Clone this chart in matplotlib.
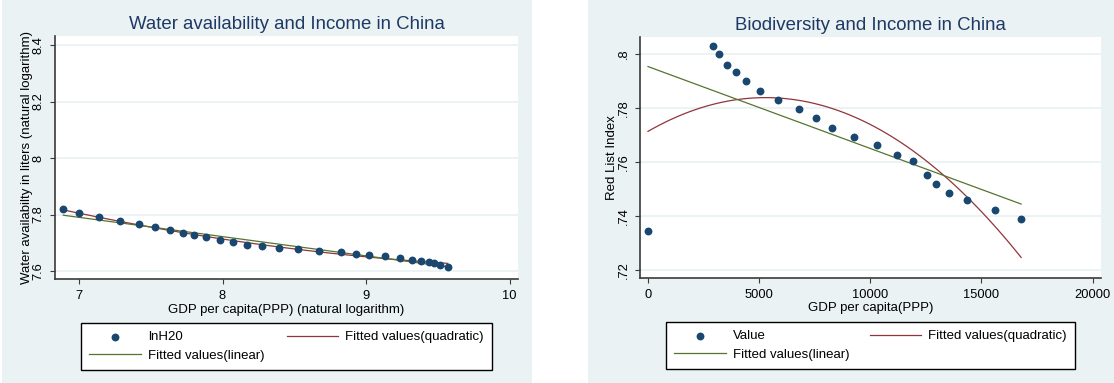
import numpy as np
import matplotlib
matplotlib.use('Agg')
import matplotlib.pyplot as plt
from matplotlib.patches import Rectangle

plt.rcParams['font.family'] = ['Liberation Sans', 'DejaVu Sans']

# left panel: log GDP per capita vs log water availability
ln_gdp = [6.891, 7.000, 7.141, 7.284, 7.416, 7.532, 7.632, 7.727, 7.803, 7.882,
          7.980, 8.074, 8.172, 8.278, 8.394, 8.526, 8.670, 8.823, 8.932, 9.023,
          9.132, 9.239, 9.322, 9.385, 9.436, 9.470, 9.512, 9.568]
ln_h2o = [7.819, 7.804, 7.790, 7.779, 7.767, 7.756, 7.746, 7.735, 7.726, 7.719,
          7.710, 7.702, 7.694, 7.688, 7.682, 7.677, 7.671, 7.666, 7.661, 7.656,
          7.652, 7.646, 7.641, 7.636, 7.632, 7.627, 7.622, 7.615]
water_xticks = [7, 8, 9, 10]
water_yticks = [7.6, 7.8, 8.0, 8.2, 8.4]
water_ytick_labels = ['7.6', '7.8', '8', '8.2', '8.4']

# right panel: GDP per capita vs Red List Index
gdp = [0, 2939, 3209, 3540, 3946, 4425, 5055, 5835, 6810, 7575, 8295,
       9255, 10290, 11190, 11925, 12540, 12960, 13560, 14340, 15600, 16785]
rli = [0.7346, 0.8031, 0.8000, 0.7960, 0.7935, 0.7899, 0.7863, 0.7831, 0.7796,
       0.7763, 0.7726, 0.7694, 0.7662, 0.7628, 0.7604, 0.7552, 0.7520, 0.7485,
       0.7458, 0.7423, 0.7390]
bio_xticks = [0, 5000, 10000, 15000, 20000]
bio_yticks = [0.72, 0.74, 0.76, 0.78, 0.80]
bio_ytick_labels = ['.72', '.74', '.76', '.78', '.8']

BG = '#eaf2f3'
NAVY = '#1a476f'
RED = '#90353b'
GREEN = '#55752f'
TITLE = '#1e3966'

W, H = 1114, 383
fig = plt.figure(figsize=(W / 100, H / 100), dpi=100)
fig.patch.set_facecolor('white')

# panel backgrounds (pixel coords)
for x0, x1 in [(2, 532), (588, 1114)]:
    fig.patches.append(Rectangle((x0 / W, 0), (x1 - x0) / W, 1,
                                 transform=fig.transFigure, facecolor=BG,
                                 edgecolor='none', zorder=-10))


def px_axes(left, top, right, bottom):
    return fig.add_axes([left / W, (H - bottom) / H, (right - left) / W, (bottom - top) / H])


def style_axes(ax, title, xlabel, ylabel):
    ax.set_facecolor('white')
    for s in ['top', 'right']:
        ax.spines[s].set_visible(False)
    for s in ['left', 'bottom']:
        ax.spines[s].set_color('#3a3a3a')
        ax.spines[s].set_linewidth(1.2)
    ax.tick_params(direction='out', length=3.5, width=0.8, color='#3a3a3a',
                   labelsize=9.3, pad=3)
    ax.tick_params(axis='x', pad=4.5)
    ax.tick_params(axis='y', labelrotation=90, pad=4)
    for lab in ax.get_yticklabels():
        lab.set_va('center')
    ax.grid(axis='y', color=BG, linewidth=1.3)
    ax.set_axisbelow(True)
    ax.set_title(title, fontsize=13.4, color=TITLE, pad=5)
    ax.set_xlabel(xlabel, fontsize=9.5, labelpad=1)
    ax.set_ylabel(ylabel, fontsize=9.5, labelpad=0)


def fit_lines(ax, x, y):
    x = np.asarray(x, float)
    y = np.asarray(y, float)
    grid = np.linspace(x.min(), x.max(), 100)
    q = np.polyval(np.polyfit(x, y, 2), grid)
    l = np.polyval(np.polyfit(x, y, 1), grid)
    hq, = ax.plot(grid, q, color=RED, lw=0.9, zorder=3)
    hl, = ax.plot(grid, l, color=GREEN, lw=0.9, zorder=3)
    return hq, hl


def add_legend(ax, handles, labels, box):
    # box = (left, top, right, bottom) in pixels
    l, t, r, b = box
    inv = ax.transAxes.inverted()
    (ax0, ay0) = inv.transform(fig.transFigure.transform((l / W, (H - b) / H)))
    (ax1, ay1) = inv.transform(fig.transFigure.transform((r / W, (H - t) / H)))
    leg = ax.legend(handles, labels, ncol=2, mode='expand', loc='upper left',
                    bbox_to_anchor=(ax0, ay0, ax1 - ax0, ay1 - ay0),
                    borderaxespad=0, fontsize=9.5, frameon=True, fancybox=False,
                    edgecolor='black', facecolor='white', framealpha=1,
                    handlelength=3.9, handletextpad=0.55, labelspacing=0.45,
                    borderpad=0.62, columnspacing=0.8)
    leg.get_frame().set_linewidth(1.0)
    return leg


# ---- left panel
ax1 = px_axes(55, 36, 518, 279)
sc1 = ax1.scatter(ln_gdp, ln_h2o, s=32, color=NAVY, zorder=4, linewidths=0)
hq1, hl1 = fit_lines(ax1, ln_gdp, ln_h2o)
ax1.set_xlim(6.833, 10.058)
ax1.set_ylim(7.572, 8.432)
ax1.set_xticks(water_xticks)
ax1.set_yticks(water_yticks)
ax1.set_yticklabels(water_ytick_labels)
style_axes(ax1, 'Water availability and Income in China',
           'GDP per capita(PPP) (natural logarithm)',
           'Water availabilty in liters (natural logarithm)')
add_legend(ax1, [sc1, hl1, hq1],
           ['lnH20', 'Fitted values(linear)', 'Fitted values(quadratic)'],
           (81, 323, 492, 366))

# ---- right panel
ax2 = px_axes(640, 37, 1101, 278)
sc2 = ax2.scatter(gdp, rli, s=32, color=NAVY, zorder=4, linewidths=0)
hq2, hl2 = fit_lines(ax2, gdp, rli)
ax2.set_xlim(-360, 20378)
ax2.set_ylim(0.7171, 0.8063)
ax2.set_xticks(bio_xticks)
ax2.set_yticks(bio_yticks)
ax2.set_yticklabels(bio_ytick_labels)
style_axes(ax2, 'Biodiversity and Income in China',
           'GDP per capita(PPP)', 'Red List Index')
add_legend(ax2, [sc2, hl2, hq2],
           ['Value', 'Fitted values(linear)', 'Fitted values(quadratic)'],
           (666, 322, 1075, 365))

fig.savefig('out.png', dpi=100)
